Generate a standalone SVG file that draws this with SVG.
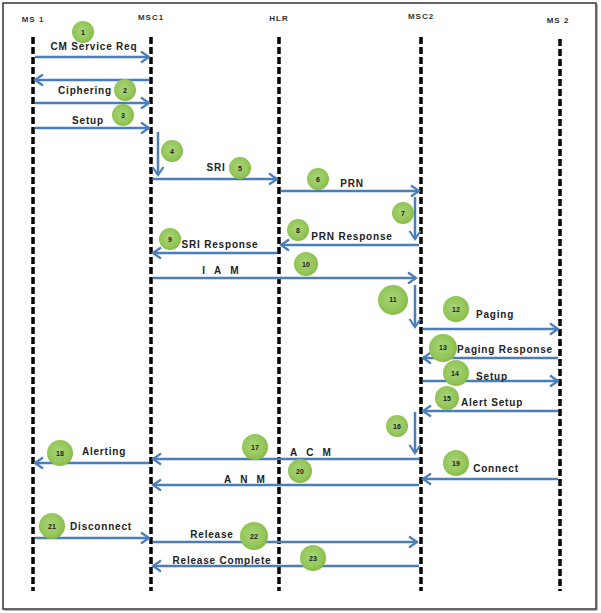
<svg xmlns="http://www.w3.org/2000/svg" width="601" height="613" viewBox="0 0 601 613">
<style>
.life{stroke:#000;stroke-width:3.5;stroke-dasharray:7 3;fill:none}
.hdr{font-family:"Liberation Sans",Arial,sans-serif;font-size:8px;font-weight:bold;fill:#333;text-anchor:middle;letter-spacing:1px}
.msg{stroke:#4a7ebb;stroke-width:2.5;fill:none;marker-end:url(#ah)}
.lbl{font-family:"Liberation Sans",Arial,sans-serif;font-size:10px;font-weight:bold;fill:#222;text-anchor:middle;letter-spacing:0.8px;dominant-baseline:central}
.num{font-family:"Liberation Sans",Arial,sans-serif;font-size:7px;font-weight:bold;fill:#1a1a1a;text-anchor:middle;dominant-baseline:central}
.bub{fill:url(#gb)}
</style>
<defs>
<marker id="ah" markerUnits="userSpaceOnUse" markerWidth="12" markerHeight="14" viewBox="0 0 12 14" refX="10" refY="7" orient="auto">
<path d="M2,1.5 L10,7 L2,12.5" fill="none" stroke="#4a7ebb" stroke-width="2.2"/>
</marker>
<radialGradient id="gb" cx="0.45" cy="0.45" r="0.55">
<stop offset="0" stop-color="#a9d47a"/>
<stop offset="0.75" stop-color="#94c659"/>
<stop offset="1" stop-color="#86bb48"/>
</radialGradient>
</defs>
<rect x="0" y="0" width="601" height="613" fill="#fff"/>
<rect x="3" y="3" width="593" height="606" fill="none" stroke="#333" stroke-width="1.5"/>
<line x1="597" y1="4" x2="597" y2="610" stroke="#666" stroke-width="1"/>
<line x1="4" y1="610" x2="597" y2="610" stroke="#666" stroke-width="1"/>

<g id="ms1"><text class="hdr" x="33" y="22">MS 1</text><line class="life" x1="33" y1="37" x2="33" y2="591"/></g>
<g id="msc1"><text class="hdr" x="151" y="20">MSC1</text><line class="life" x1="151" y1="37" x2="151" y2="591"/></g>
<g id="hlr"><text class="hdr" x="279" y="21">HLR</text><line class="life" x1="279" y1="37" x2="279" y2="591"/></g>
<g id="msc2"><text class="hdr" x="421" y="19">MSC2</text><line class="life" x1="421" y1="37" x2="421" y2="591"/></g>
<g id="ms2"><text class="hdr" x="558" y="23">MS 2</text><line class="life" x1="560" y1="39" x2="560" y2="591"/></g>

<g id="connectors">
<line class="msg" x1="35" y1="57" x2="149" y2="57"/>
<line class="msg" x1="149" y1="80" x2="35" y2="80"/>
<line class="msg" x1="35" y1="103" x2="149" y2="103"/>
<line class="msg" x1="35" y1="128" x2="149" y2="128"/>
<line class="msg" x1="158" y1="132" x2="158" y2="175"/>
<line class="msg" x1="153" y1="179" x2="277" y2="179"/>
<line class="msg" x1="281" y1="191" x2="419" y2="191"/>
<line class="msg" x1="415" y1="197" x2="415" y2="239"/>
<line class="msg" x1="419" y1="245" x2="281" y2="245"/>
<line class="msg" x1="277" y1="253" x2="153" y2="253"/>
<line class="msg" x1="153" y1="278" x2="416" y2="278"/>
<line class="msg" x1="415" y1="285" x2="415" y2="327"/>
<line class="msg" x1="423" y1="329" x2="558" y2="329"/>
<line class="msg" x1="558" y1="358" x2="423" y2="358"/>
<line class="msg" x1="423" y1="381" x2="558" y2="381"/>
<line class="msg" x1="558" y1="411" x2="423" y2="411"/>
<line class="msg" x1="415" y1="412" x2="415" y2="453"/>
<line class="msg" x1="419" y1="459" x2="153" y2="459"/>
<line class="msg" x1="149" y1="463" x2="35" y2="463"/>
<line class="msg" x1="558" y1="479" x2="423" y2="479"/>
<line class="msg" x1="419" y1="485" x2="153" y2="485"/>
<line class="msg" x1="35" y1="538" x2="149" y2="538"/>
<line class="msg" x1="153" y1="542" x2="417" y2="542"/>
<line class="msg" x1="419" y1="566" x2="153" y2="566"/>
</g>

<g id="labels">
<text class="lbl" x="94" y="46">CM Service Req</text>
<text class="lbl" x="85" y="90">Ciphering</text>
<text class="lbl" x="88" y="120">Setup</text>
<text class="lbl" x="216" y="167">SRI</text>
<text class="lbl" x="352" y="183">PRN</text>
<text class="lbl" x="352" y="236">PRN Response</text>
<text class="lbl" x="220" y="244">SRI Response</text>
<text class="lbl" x="225" y="270" style="letter-spacing:9px">IAM</text>
<text class="lbl" x="495" y="314">Paging</text>
<text class="lbl" x="505" y="349">Paging Response</text>
<text class="lbl" x="492" y="376">Setup</text>
<text class="lbl" x="492" y="402">Alert Setup</text>
<text class="lbl" x="315" y="452" style="letter-spacing:9px">ACM</text>
<text class="lbl" x="104" y="451">Alerting</text>
<text class="lbl" x="496" y="468">Connect</text>
<text class="lbl" x="249" y="479" style="letter-spacing:9px">ANM</text>
<text class="lbl" x="101" y="526">Disconnect</text>
<text class="lbl" x="212" y="534">Release</text>
<text class="lbl" x="222" y="560">Release Complete</text>
</g>

<g id="n1"><circle class="bub" cx="83" cy="32" r="11"/><text class="num" x="83" y="32">1</text></g>
<g id="n2"><circle class="bub" cx="125" cy="90" r="11"/><text class="num" x="125" y="90">2</text></g>
<g id="n3"><circle class="bub" cx="123" cy="115" r="11"/><text class="num" x="123" y="115">3</text></g>
<g id="n4"><circle class="bub" cx="172" cy="151" r="11"/><text class="num" x="172" y="151">4</text></g>
<g id="n5"><circle class="bub" cx="240" cy="168" r="11"/><text class="num" x="240" y="168">5</text></g>
<g id="n6"><circle class="bub" cx="318" cy="179" r="11"/><text class="num" x="318" y="179">6</text></g>
<g id="n7"><circle class="bub" cx="403" cy="213" r="11"/><text class="num" x="403" y="213">7</text></g>
<g id="n8"><circle class="bub" cx="298" cy="230" r="11"/><text class="num" x="298" y="230">8</text></g>
<g id="n9"><circle class="bub" cx="170" cy="239" r="11"/><text class="num" x="170" y="239">9</text></g>
<g id="n10"><circle class="bub" cx="306" cy="264" r="12"/><text class="num" x="306" y="264">10</text></g>
<g id="n11"><circle class="bub" cx="393" cy="300" r="15"/><text class="num" x="393" y="299">11</text></g>
<g id="n12"><circle class="bub" cx="456" cy="309" r="13"/><text class="num" x="456" y="309">12</text></g>
<g id="n13"><circle class="bub" cx="443" cy="348" r="14"/><text class="num" x="443" y="347">13</text></g>
<g id="n14"><circle class="bub" cx="456" cy="373" r="13"/><text class="num" x="455" y="373">14</text></g>
<g id="n15"><circle class="bub" cx="447" cy="398" r="12"/><text class="num" x="447" y="398">15</text></g>
<g id="n16"><circle class="bub" cx="397" cy="426" r="11"/><text class="num" x="397" y="426">16</text></g>
<g id="n17"><circle class="bub" cx="255" cy="447" r="13"/><text class="num" x="255" y="447">17</text></g>
<g id="n18"><circle class="bub" cx="60" cy="453" r="13"/><text class="num" x="60" y="453">18</text></g>
<g id="n19"><circle class="bub" cx="456" cy="463" r="13"/><text class="num" x="456" y="463">19</text></g>
<g id="n20"><circle class="bub" cx="300" cy="471" r="12"/><text class="num" x="300" y="471">20</text></g>
<g id="n21"><circle class="bub" cx="52" cy="526" r="13"/><text class="num" x="52" y="526">21</text></g>
<g id="n22"><circle class="bub" cx="254" cy="536" r="14"/><text class="num" x="254" y="536">22</text></g>
<g id="n23"><circle class="bub" cx="313" cy="558" r="13"/><text class="num" x="313" y="558">23</text></g>
</svg>
